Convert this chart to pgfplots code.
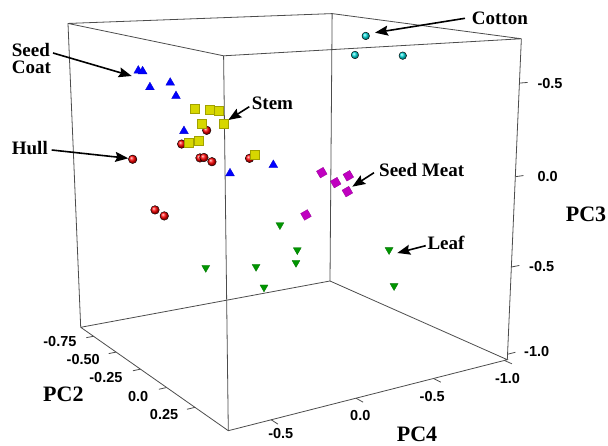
\documentclass[border=0pt]{standalone}
\usepackage{fontspec}
\setmainfont{Liberation Serif}
\newfontfamily\sansbf{Liberation Sans}
\usepackage{pgfplots}
\pgfplotsset{compat=1.18}
\usepackage{pgfplotstable}
\usetikzlibrary{arrows.meta}

% PC2 PC4 PC3 scores
\pgfplotstableread{
pc2 pc4 pc3
-0.5 0.554 0.515
-0.5 0.529 0.510
-0.5 0.489 0.422
-0.5 0.368 0.439
-0.5 0.335 0.364
-0.5 0.291 0.167
-0.5 0.005 -0.101
-0.5 -0.283 -0.082
}\seedcoat
\pgfplotstableread{
pc2 pc4 pc3
-0.5 0.602 0.040
-0.5 0.307 0.096
-0.5 0.150 0.159
-0.5 0.195 0.007
-0.5 0.170 0.007
-0.5 0.120 -0.022
-0.5 -0.124 -0.027
-0.5 0.478 -0.256
-0.5 0.423 -0.297
}\hull
\pgfplotstableread{
pc2 pc4 pc3
-0.25 0.387 0.339
-0.25 0.294 0.331
-0.25 0.240 0.319
-0.25 0.345 0.260
-0.25 0.215 0.246
-0.25 0.425 0.164
-0.25 0.366 0.171
-0.25 0.026 0.059
}\stem
\pgfplotstableread{
pc2 pc4 pc3
0 -0.211 -0.008
0 -0.302 -0.073
0 -0.385 -0.044
0 -0.380 -0.132
0 -0.111 -0.229
}\seedmeat
\pgfplotstableread{
pc2 pc4 pc3
0 0.053 -0.263
0 -0.056 -0.416
0 -0.048 -0.486
0 0.201 -0.470
0 0.499 -0.430
0 0.153 -0.591
0 -0.673 -0.505
0 -0.714 -0.725
}\leaf
\pgfplotstableread{
pc2 pc4 pc3
-0.25 -0.710 0.674
-0.25 -0.637 0.570
-0.25 -0.977 0.549
}\cotton

\definecolor{meat}{RGB}{192,0,192}
\definecolor{meatd}{RGB}{150,0,150}
\definecolor{leafc}{RGB}{0,150,0}
\definecolor{stemc}{RGB}{215,215,0}

\pgfplotsset{
  table/prj/.style={
    x expr={prjx(\thisrow{pc2},\thisrow{pc4},\thisrow{pc3})},
    y expr={prjy(\thisrow{pc2},\thisrow{pc4},\thisrow{pc3})}},
}
\tikzset{arr/.style={black, line width=1.6pt, -{Stealth[length=13pt,width=10pt,inset=2pt]}}}
\newcommand\tl{\fontsize{14.5}{16}\selectfont\sansbf\bfseries}
\newcommand\ann{\fontsize{19}{22}\selectfont\bfseries}
\newcommand\ttl{\fontsize{22}{26}\selectfont\bfseries}

\begin{document}
\begin{tikzpicture}[declare function={
  prjx(\x,\y,\z)=(259.926+72.681*\x-167.84*\y-9.417*\z)/(0.9012-0.13693*\x-0.07878*\y-0.03251*\z);
  prjy(\x,\y,\z)=(157.995+13.838*\x+4.205*\y-173.14*\z)/(0.9012-0.13693*\x-0.07878*\y-0.03251*\z);
}]
\begin{axis}[at={(0,0)}, anchor=south west, scale only axis,
  width=608pt, height=446pt, xmin=0, xmax=608, ymin=0, ymax=446,
  y dir=reverse, hide axis, clip=false,
  boxline/.style={black!70, line width=0.8pt, mark=none}]

% box
\addplot[boxline] table[prj,row sep=\\]{pc2 pc4 pc3\\ -0.9 0.736 -1.0319\\ 0.52 0.736 -1.0319\\ 0.52 -1.0216 -1.0319\\ -0.9 -1.0216 -1.0319\\ -0.9 0.736 -1.0319\\};
\addplot[boxline] table[prj,row sep=\\]{pc2 pc4 pc3\\ -0.9 0.736 0.7308\\ 0.52 0.736 0.7308\\ 0.52 -1.0216 0.7308\\ -0.9 -1.0216 0.7308\\ -0.9 0.736 0.7308\\};
\addplot[boxline] table[prj,row sep=\\]{pc2 pc4 pc3\\ -0.9 0.736 -1.0319\\ -0.9 0.736 0.7308\\};
\addplot[boxline] table[prj,row sep=\\]{pc2 pc4 pc3\\ 0.52 0.736 -1.0319\\ 0.52 0.736 0.7308\\};
\addplot[boxline] table[prj,row sep=\\]{pc2 pc4 pc3\\ 0.52 -1.0216 -1.0319\\ 0.52 -1.0216 0.7308\\};
\addplot[boxline] table[prj,row sep=\\]{pc2 pc4 pc3\\ -0.9 -1.0216 -1.0319\\ -0.9 -1.0216 0.7308\\};

% ticks
\pgfplotsinvokeforeach{-0.75,-0.5,-0.25,0,0.25}{
  \addplot[boxline] table[prj,row sep=\\]{pc2 pc4 pc3\\ #1 0.736 -1.0319\\ #1 0.78 -1.0319\\};}
\pgfplotsinvokeforeach{0.5,0,-0.5,-1}{
  \addplot[boxline] table[prj,row sep=\\]{pc2 pc4 pc3\\ 0.52 #1 -1.0319\\ 0.57 #1 -1.0319\\};}
\pgfplotsinvokeforeach{0.5,0,-0.5,-1}{
  \addplot[boxline] table[prj,row sep=\\]{pc2 pc4 pc3\\ 0.52 -1.0216 #1\\ 0.52 -1.08 #1\\};}

% data
\addplot[only marks, mark=ball, mark size=4.3pt, mark options={ball color=red}] table[prj] {\hull};
\addplot[only marks, mark=square*, mark size=4.5pt, mark options={fill=stemc, draw=stemc!75!black, line width=0.4pt}] table[prj] {\stem};
\addplot[only marks, mark=triangle*, mark size=5.1pt, mark options={fill=blue, draw=blue!80!black, line width=0.3pt}] table[prj] {\seedcoat};
\addplot[only marks, mark=square*, mark size=3.9pt, mark options={rotate=30, fill=meat, draw=meatd, line width=0.3pt}] table[prj] {\seedmeat};
\addplot[only marks, mark=triangle*, mark size=4.6pt, mark options={rotate=180, fill=leafc, draw=leafc!75!black, line width=0.3pt}] table[prj] {\leaf};
\addplot[only marks, mark=ball, mark size=3.8pt, mark options={ball color=cyan!85!black}] table[prj] {\cotton};

% tick labels
\node[font=\tl, anchor=base east] at (axis cs:80,346.3) {-0.75};
\node[font=\tl, anchor=base east] at (axis cs:103.3,364.7) {-0.50};
\node[font=\tl, anchor=base east] at (axis cs:126,383) {-0.25};
\node[font=\tl, anchor=base east] at (axis cs:151.7,401) {0.0};
\node[font=\tl, anchor=base east] at (axis cs:181.7,419.7) {0.25};
\node[font=\tl, anchor=base] at (axis cs:280.8,438.3) {-0.5};
\node[font=\tl, anchor=base] at (axis cs:360.3,420) {0.0};
\node[font=\tl, anchor=base] at (axis cs:432.2,401.7) {-0.5};
\node[font=\tl, anchor=base] at (axis cs:507.5,383.3) {-1.0};
\node[font=\tl, anchor=base west] at (axis cs:534,88.3) {-0.5};
\node[font=\tl, anchor=base west] at (axis cs:534,181.7) {0.0};
\node[font=\tl, anchor=base west] at (axis cs:525.7,271.3) {-0.5};
\node[font=\tl, anchor=base west] at (axis cs:520.7,356.3) {-1.0};

% axis titles
\node[font=\ttl, anchor=base west, inner sep=0pt] at (axis cs:43,401) {PC2};
\node[font=\ttl, anchor=base west, inner sep=0pt] at (axis cs:396.7,441) {PC4};
\node[font=\ttl, anchor=base west, inner sep=0pt] at (axis cs:565.7,221.7) {PC3};

% annotations
\node[font=\ann, anchor=base west, inner sep=0pt] at (axis cs:11.7,56.7) {Seed};
\node[font=\ann, anchor=base west, inner sep=0pt] at (axis cs:11.7,74) {Coat};
\node[font=\ann, anchor=base west, inner sep=0pt] at (axis cs:11.7,155) {Hull};
\node[font=\ann, anchor=base west, inner sep=0pt] at (axis cs:251.7,110) {Stem};
\node[font=\ann, anchor=base west, inner sep=0pt] at (axis cs:471.7,25) {Cotton};
\node[font=\ann, anchor=base west, inner sep=0pt] at (axis cs:379,176.7) {Seed Meat};
\node[font=\ann, anchor=base west, inner sep=0pt] at (axis cs:427.3,249.7) {Leaf};

\draw[arr] (axis cs:53,53) -- (axis cs:131.7,76);
\draw[arr] (axis cs:51.7,150) -- (axis cs:128.3,158.3);
\draw[arr] (axis cs:249.3,106.7) -- (axis cs:228.3,120);
\draw[arr] (axis cs:465,18.3) -- (axis cs:375,32.7);
\draw[arr] (axis cs:374,172.7) -- (axis cs:352.3,186.7);
\draw[arr] (axis cs:425.7,245.7) -- (axis cs:397.3,253);
\end{axis}
\pgfresetboundingbox
\path[use as bounding box] (0,0) rectangle (608pt,446pt);
\end{tikzpicture}
\end{document}
